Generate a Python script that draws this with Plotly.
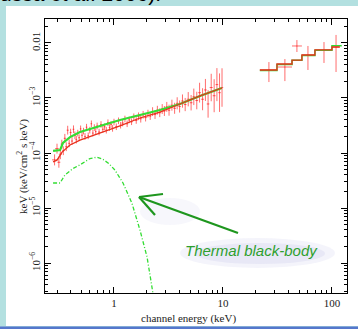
import plotly.graph_objects as go

# ---------------- data ----------------
# XRT spectrum (keV, flux keV^2 ph/cm2/s/keV), half-width in energy, error half-width in dex
xrt_e = [0.285, 0.300, 0.312, 0.322, 0.332, 0.343, 0.354, 0.365, 0.376, 0.388,
         0.400, 0.412, 0.425, 0.438, 0.451, 0.465, 0.479, 0.494, 0.509, 0.525,
         0.542, 0.560, 0.580, 0.600, 0.620, 0.640, 0.660, 0.680, 0.700, 0.730,
         0.760, 0.790, 0.820, 0.850, 0.880, 0.910, 0.940, 0.970, 1.00, 1.05,
         1.10, 1.15, 1.20, 1.26, 1.32, 1.38, 1.45, 1.52, 1.60, 1.68,
         1.76, 1.85, 1.95, 2.05, 2.15, 2.26, 2.38, 2.50, 2.63, 2.77,
         2.90, 3.05, 3.20, 3.40, 3.60, 3.80, 4.00, 4.25, 4.50, 4.80,
         5.10, 5.40, 5.75, 6.10, 6.50, 6.90, 7.30, 7.80, 8.30, 8.80,
         9.30, 9.80]
xrt_f = [7.5e-5, 1.20e-4, 6.8e-5, 9.5e-5, 1.45e-4, 1.10e-4, 1.85e-4, 1.30e-4, 2.60e-4, 1.50e-4,
         2.35e-4, 1.65e-4, 2.70e-4, 2.10e-4, 1.75e-4, 2.30e-4, 1.90e-4, 2.75e-4, 2.10e-4, 2.50e-4,
         2.00e-4, 2.95e-4, 2.05e-4, 2.60e-4, 3.40e-4, 2.30e-4, 2.90e-4, 2.45e-4, 3.10e-4, 2.40e-4,
         3.30e-4, 2.70e-4, 3.00e-4, 2.60e-4, 3.55e-4, 2.90e-4, 3.30e-4, 2.80e-4, 3.65e-4, 3.00e-4,
         3.85e-4, 3.20e-4, 3.50e-4, 4.15e-4, 3.40e-4, 4.00e-4, 3.70e-4, 4.55e-4, 3.90e-4, 4.65e-4,
         4.20e-4, 4.95e-4, 4.40e-4, 5.20e-4, 4.70e-4, 5.65e-4, 5.00e-4, 6.00e-4, 5.40e-4, 6.30e-4,
         5.80e-4, 6.90e-4, 6.00e-4, 7.40e-4, 6.50e-4, 8.00e-4, 7.00e-4, 8.80e-4, 7.60e-4, 9.50e-4,
         8.20e-4, 1.05e-3, 9.00e-4, 1.25e-3, 9.50e-4, 1.40e-3, 7.80e-4, 1.55e-3, 1.10e-3, 1.75e-3,
         1.25e-3, 1.55e-3]
xrt_de = [0.015, 0.012, 0.010, 0.010, 0.008, 0.008, 0.008, 0.008, 0.008, 0.008,
          0.008, 0.008, 0.008, 0.008, 0.008, 0.008, 0.008, 0.008, 0.008, 0.009,
          0.009, 0.010, 0.010, 0.010, 0.010, 0.010, 0.010, 0.010, 0.012, 0.015,
          0.015, 0.015, 0.015, 0.015, 0.015, 0.015, 0.015, 0.015, 0.020, 0.025,
          0.025, 0.025, 0.030, 0.030, 0.030, 0.030, 0.035, 0.035, 0.040, 0.040,
          0.040, 0.045, 0.050, 0.050, 0.050, 0.055, 0.060, 0.060, 0.065, 0.070,
          0.070, 0.075, 0.080, 0.100, 0.100, 0.100, 0.100, 0.120, 0.130, 0.150,
          0.150, 0.150, 0.170, 0.180, 0.200, 0.200, 0.200, 0.250, 0.250, 0.250,
          0.250, 0.250]
xrt_dex = [0.10, 0.09, 0.10, 0.09, 0.08, 0.08, 0.08, 0.08, 0.08, 0.07,
           0.07, 0.07, 0.07, 0.07, 0.07, 0.06, 0.06, 0.06, 0.06, 0.06,
           0.06, 0.06, 0.06, 0.06, 0.06, 0.06, 0.06, 0.06, 0.06, 0.06,
           0.06, 0.06, 0.06, 0.06, 0.06, 0.06, 0.06, 0.06, 0.06, 0.06,
           0.06, 0.06, 0.06, 0.06, 0.06, 0.06, 0.06, 0.06, 0.06, 0.07,
           0.07, 0.07, 0.07, 0.07, 0.07, 0.08, 0.08, 0.08, 0.08, 0.09,
           0.09, 0.09, 0.10, 0.10, 0.10, 0.11, 0.11, 0.12, 0.12, 0.13,
           0.14, 0.15, 0.16, 0.18, 0.20, 0.20, 0.25, 0.25, 0.30, 0.30,
           0.35, 0.35]

# BAT spectrum
bat_e = [26.4, 37.0, 47.7, 60.2, 84.5, 109.0]
bat_e_lo = [21.8, 31.3, 43.0, 53.0, 69.8, 100.0]
bat_e_hi = [31.3, 43.0, 53.0, 69.8, 100.0, 118.0]
bat_f = [3.23e-3, 3.66e-3, 8.82e-3, 6.05e-3, 7.47e-3, 8.45e-3]
bat_f_hi = [4.5e-3, 5.1e-3, 1.13e-2, 8.82e-3, 1.04e-2, 1.40e-2]
bat_f_lo = [1.95e-3, 2.03e-3, 6.86e-3, 3.23e-3, 4.33e-3, 2.97e-3]

# models
pl_model_e = [0.276, 0.300, 0.334, 0.395, 0.488, 0.744, 1.135, 1.73, 2.64, 4.03, 6.15, 9.77]
pl_model_f = [6.9e-5, 7.4e-5, 1.04e-4, 1.40e-4, 1.72e-4, 2.31e-4, 3.10e-4, 4.33e-4, 5.56e-4, 7.78e-4, 1.09e-3, 1.52e-3]
tot_model_e = [0.276, 0.320, 0.340, 0.395, 0.488, 0.744, 1.135, 1.73, 2.64, 4.03, 6.15, 9.77]
tot_model_f = [1.09e-4, 1.13e-4, 1.52e-4, 1.95e-4, 2.41e-4, 3.10e-4, 3.98e-4, 4.91e-4, 6.05e-4, 7.78e-4, 1.09e-3, 1.52e-3]
bb_model_e = [0.276, 0.320, 0.355, 0.420, 0.488, 0.600, 0.700, 0.790, 0.900, 1.02, 1.21, 1.46, 1.73, 2.01, 2.23, 2.32]
bb_model_f = [2.85e-5, 2.85e-5, 4.0e-5, 5.2e-5, 6.1e-5, 7.9e-5, 8.4e-5, 7.7e-5, 6.4e-5, 4.9e-5, 2.85e-5, 1.23e-5, 4.0e-6, 1.29e-6, 3.66e-7, 2.2e-7]
bat_edges = [21.8, 31.3, 43.0, 53.0, 69.8, 100.0, 118.0]
bat_model_red = [3.23e-3, 4.15e-3, 4.90e-3, 6.05e-3, 7.47e-3, 8.45e-3]
bat_model_green = [3.15e-3, 4.05e-3, 4.85e-3, 5.95e-3, 7.40e-3, 8.90e-3]

xtick_vals = [1, 10, 100]
xtick_text = ["1", "10", "100"]
ytick_vals = [1e-6, 1e-5, 1e-4, 1e-3, 1e-2]
ytick_text = ["10<sup>\u22126</sup>", "10<sup>\u22125</sup>", "10<sup>\u22124</sup>", "10<sup>\u22123</sup>", "0.01"]

# ---------------- figure ----------------
W, H = 358, 329
L, R, T, B = 45, 11, 19, 36
pw, ph = W - L - R, H - T - B


def px(xp):
    return (xp - L) / pw


def py(yp):
    return (H - B - yp) / ph


RED = "rgba(255,45,45,0.7)"
fig = go.Figure()

# XRT data
err_up = [f * (10 ** d - 1) for f, d in zip(xrt_f, xrt_dex)]
err_dn = [f * (1 - 10 ** (-d)) for f, d in zip(xrt_f, xrt_dex)]
fig.add_trace(go.Scatter(
    x=xrt_e, y=xrt_f, mode="markers",
    marker=dict(size=1, color=RED),
    error_y=dict(type="data", array=err_up, arrayminus=err_dn, color=RED, thickness=1, width=0),
    error_x=dict(type="data", array=xrt_de, color=RED, thickness=1, width=0),
    showlegend=False, hoverinfo="skip"))

# BAT data
fig.add_trace(go.Scatter(
    x=bat_e, y=bat_f, mode="markers",
    marker=dict(size=1, color=RED),
    error_y=dict(type="data", array=[h - f for h, f in zip(bat_f_hi, bat_f)],
                 arrayminus=[f - l for f, l in zip(bat_f, bat_f_lo)], color=RED, thickness=1, width=0),
    error_x=dict(type="data", array=[h - e for h, e in zip(bat_e_hi, bat_e)],
                 arrayminus=[e - l for e, l in zip(bat_e, bat_e_lo)], color=RED, thickness=1, width=0),
    showlegend=False, hoverinfo="skip"))

# blackbody component
fig.add_trace(go.Scatter(x=bb_model_e, y=bb_model_f, mode="lines",
                         line=dict(color="#33dd33", width=1.3, dash="4px,2px,1px,2px"),
                         showlegend=False, hoverinfo="skip"))
# total model (green) and power law (red)
fig.add_trace(go.Scatter(x=tot_model_e, y=tot_model_f, mode="lines",
                         line=dict(color="#33dd33", width=2.2),
                         showlegend=False, hoverinfo="skip"))
fig.add_trace(go.Scatter(x=pl_model_e, y=pl_model_f, mode="lines",
                         line=dict(color="#e8301c", width=1.3),
                         showlegend=False, hoverinfo="skip"))
# BAT model steps
fig.add_trace(go.Scatter(x=bat_edges[:-1] + [bat_edges[-1] + 5], y=bat_model_green + [bat_model_green[-1]],
                         mode="lines", line_shape="hv", line=dict(color="#33dd33", width=1.5),
                         showlegend=False, hoverinfo="skip"))
fig.add_trace(go.Scatter(x=bat_edges, y=bat_model_red + [bat_model_red[-1]],
                         mode="lines", line_shape="hv", line=dict(color="#e8301c", width=1.3),
                         showlegend=False, hoverinfo="skip"))

SERIF = "Liberation Serif"
axis_common = dict(showline=True, linecolor="black", linewidth=1, mirror="ticks", automargin=False,
                   ticks="inside", ticklen=6, tickcolor="black", showgrid=False, zeroline=False,
                   tickfont=dict(family=SERIF, size=11, color="#222"))

minor_x = [m * 10 ** k for k in (-1, 0, 1) for m in range(2, 10)]
minor_y = [m * 10 ** k for k in range(-7, -1) for m in range(2, 10)]

fig.update_xaxes(type="log", range=[-0.633, 2.138], tickmode="array", tickvals=xtick_vals, ticktext=xtick_text,
                 minor=dict(tickmode="array", tickvals=minor_x, ticks="inside", ticklen=3, tickcolor="black"),
                 **axis_common)
fig.update_yaxes(type="log", range=[-6.545, -1.564], tickmode="array", tickvals=ytick_vals, ticktext=ytick_text,
                 tickangle=-90,
                 minor=dict(tickmode="array", tickvals=minor_y, ticks="inside", ticklen=3, tickcolor="black"),
                 **axis_common)

shapes = [
    # white slide panel
    dict(type="rect", xref="paper", yref="paper", x0=px(6), x1=px(360), y0=py(326), y1=py(6),
         fillcolor="white", line=dict(width=0), layer="below"),
    # bottom blue rule
    dict(type="rect", xref="paper", yref="paper", x0=px(-2), x1=px(360), y0=py(330), y1=py(326.5),
         fillcolor="#5577cc", line=dict(width=0), layer="below"),
    # soft glow behind the label
    dict(type="circle", xref="paper", yref="paper", x0=px(180), x1=px(335), y0=py(268), y1=py(238),
         fillcolor="rgba(150,150,215,0.10)", line=dict(width=0), layer="below"),
    dict(type="circle", xref="paper", yref="paper", x0=px(195), x1=px(325), y0=py(264), y1=py(243),
         fillcolor="rgba(150,150,215,0.12)", line=dict(width=0), layer="below"),
    dict(type="circle", xref="paper", yref="paper", x0=px(140), x1=px(200), y0=py(225), y1=py(198),
         fillcolor="rgba(150,150,215,0.08)", line=dict(width=0), layer="below"),
    # arrow shaft and barbs
    dict(type="line", xref="paper", yref="paper", x0=px(238), y0=py(233), x1=px(139), y1=py(197),
         line=dict(color="#1e961e", width=2.2)),
    dict(type="line", xref="paper", yref="paper", x0=px(139), y0=py(197), x1=px(163), y1=py(194),
         line=dict(color="#1e961e", width=2.2)),
    dict(type="line", xref="paper", yref="paper", x0=px(139), y0=py(197), x1=px(155), y1=py(215),
         line=dict(color="#1e961e", width=2.2)),
]

annotations = [
    dict(text="Thermal black-body", xref="paper", yref="paper", x=px(251), y=py(250),
         xanchor="center", yanchor="middle",
         showarrow=False, font=dict(family="Liberation Sans", size=15, color="#2ea02e", style="italic")),
    dict(text="ussa et al. 2006).", xref="paper", yref="paper", x=px(-2), y=py(-6),
         xanchor="left", yanchor="middle", showarrow=False,
         font=dict(family="Liberation Sans", size=21, color="black")),
    # axis titles
    dict(text="channel energy (keV)", xref="paper", yref="paper", x=px(188), y=py(318),
         xanchor="center", yanchor="middle", showarrow=False,
         font=dict(family=SERIF, size=11, color="#222")),
    dict(text="keV (keV/cm<sup>2</sup> s keV)", xref="paper", yref="paper", x=px(22), y=py(167),
         xanchor="center", yanchor="middle", textangle=-90, showarrow=False,
         font=dict(family=SERIF, size=11, color="#222")),
]

fig.update_layout(width=W, height=H, margin=dict(l=L, r=R, t=T, b=B, autoexpand=False),
                  paper_bgcolor="#b3e0e0", plot_bgcolor="white",
                  shapes=shapes, annotations=annotations)

fig.write_html("out.html", config={"displayModeBar": False},
               post_script="document.body.style.margin='0px';document.body.style.overflow='hidden';")
